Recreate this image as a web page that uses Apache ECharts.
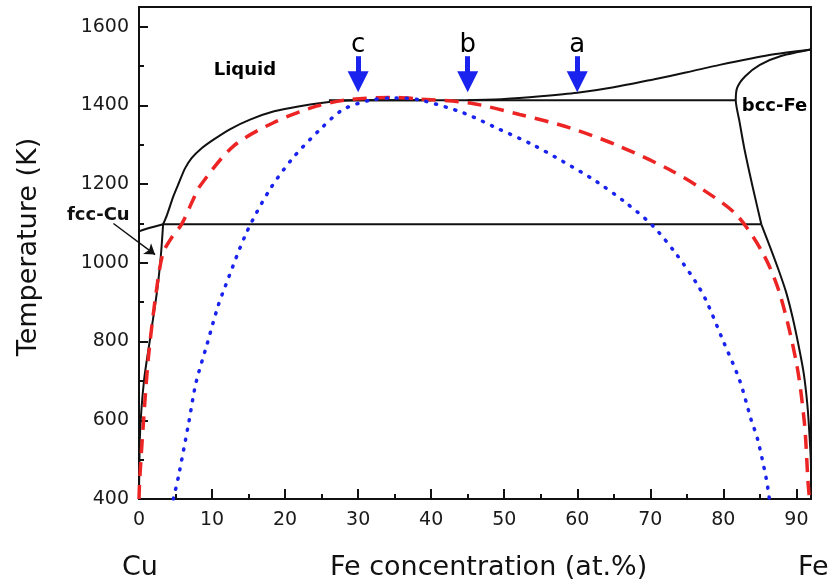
<!DOCTYPE html>
<html>
<head>
<meta charset="utf-8">
<script src="https://cdn.jsdelivr.net/npm/echarts@6/dist/echarts.min.js"></script>
<style>
  html, body { margin: 0; padding: 0; background: #fff; }
  #main { width: 837px; height: 588px; }
</style>
</head>
<body>
<div id="main"></div>
<script>
// phase boundaries, [Fe at.%, T (K)]
var liquidusLeft = [[3.3,1098],[3.8,1120],[4.7,1169],[5.5,1205],[6.3,1240],[7.2,1266],[8.5,1290],[10.2,1313],[12.5,1340],[15.2,1364],[18.5,1385],[22,1398],[26.6,1410],[31,1413],[40,1413]];
var solidusCu = [[0,1080],[1.5,1089],[3.3,1098]];
var solvusCu = [[3.3,1098],[3.0,1020],[2.5,932],[1.5,805],[0.7,703],[0.15,570],[0,400]];
var peritectic = [[3.3,1098],[85.2,1098]];
var monotectic = [[26,1413],[81.7,1413]];
var liquidusRight = [[45,1413],[50,1416],[55,1423],[60,1432],[65,1446],[70.4,1466],[75,1484],[79.5,1503],[86.3,1528],[92,1542]];
var solidusFe = [[92,1542],[88,1526],[85,1503],[83,1474],[81.9,1445],[81.7,1413],[82.2,1360],[82.9,1288],[84,1194],[85.2,1098]];
var solvusFe = [[85.2,1098],[86.4,1040],[87.6,980],[88.6,925],[89.5,860],[90.3,790],[91.0,720],[91.5,640],[91.8,560],[92,480],[92,400]];
var binodal = [[0,400],[0.1,450],[0.6,593],[1.3,762],[2.4,932],[3.3,1025],[4.5,1065],[5.8,1097],[7.4,1160],[8.3,1194],[12.9,1296],[18.4,1356],[24.3,1398],[28.9,1415],[35,1420],[38.4,1416],[45.3,1406],[52.1,1377],[59,1343],[65.8,1296],[72.6,1237],[77.2,1186],[81.8,1122],[85.4,1025],[87.7,923],[90,746],[91.1,593],[91.6,441],[91.8,400]];
var spinodal = [[4.7,400],[5.4,457],[6.8,593],[7.8,695],[9.3,792],[10.8,889],[11.8,940],[14.7,1076],[17.9,1186],[21.1,1267],[24.8,1339],[27.9,1389],[31.6,1413],[35,1419],[38.4,1414],[44.4,1381],[48.9,1343],[53.9,1300],[58,1258],[62.6,1207],[66.7,1152],[70.4,1093],[73.6,1021],[76.3,949],[77.7,902],[79.9,805],[82.2,703],[83.8,602],[84.7,551],[85.9,449],[86.3,400]];

var arrowNames = ['c', 'b', 'a'];
var arrowX = [30, 45, 60];
var arrowTop = 1525;
var arrowTip = 1460;
var labelT = 1553;
var fccArrow = [[-3.5, 1100], [2.2, 1021]];

var fontFam = 'DejaVu Sans, Verdana, sans-serif';

var chart = echarts.init(document.getElementById('main'));

function blackLine(name, data) {
    return {
        name: name,
        type: 'line',
        data: data,
        smooth: 0.25,
        symbol: 'none',
        lineStyle: { color: '#111', width: 2 },
        z: 3
    };
}

var arrowLines = [];
var arrowLabels = [];
for (var i = 0; i < arrowX.length; i++) {
    arrowLines.push([{ coord: [arrowX[i], arrowTop] }, { coord: [arrowX[i], arrowTip] }]);
    arrowLabels.push({ name: arrowNames[i], value: [arrowX[i], labelT] });
}

var option = {
    animation: false,
    grid: {
        left: 139, right: 26, top: 7, bottom: 89,
        show: true,
        borderColor: '#111',
        borderWidth: 2
    },
    xAxis: {
        type: 'value',
        min: 0, max: 92, interval: 10,
        axisLine: { show: true, lineStyle: { color: '#111', width: 2 } },
        axisTick: { show: true, inside: true, length: 10, lineStyle: { color: '#111', width: 2 } },
        minorTick: { show: true, splitNumber: 2, length: 5, lineStyle: { color: '#111', width: 2 } },
        axisLabel: {
            color: '#1a1a1a', fontSize: 19, fontFamily: fontFam, margin: 12, showMaxLabel: false,
            formatter: function (v) { return String(v); }
        },
        splitLine: { show: false }
    },
    yAxis: {
        type: 'value',
        min: 400, max: 1650, interval: 200,
        axisLine: { show: true, lineStyle: { color: '#111', width: 2 } },
        axisTick: { show: true, inside: true, length: 9, lineStyle: { color: '#111', width: 2 } },
        minorTick: { show: true, splitNumber: 2, length: 5, lineStyle: { color: '#111', width: 2 } },
        axisLabel: {
            color: '#1a1a1a', fontSize: 19, fontFamily: fontFam, margin: 10, showMaxLabel: false,
            formatter: function (v) { return String(v); }
        },
        splitLine: { show: false }
    },
    graphic: [
        { type: 'text', x: 29, y: 247, rotation: Math.PI / 2,
          style: { text: 'Temperature (K)', fontSize: 27, fontFamily: fontFam, fill: '#111', align: 'center', verticalAlign: 'middle' } },
        { type: 'text', x: 122, y: 568,
          style: { text: 'Cu', fontSize: 27, fontFamily: fontFam, fill: '#111', align: 'left', verticalAlign: 'middle' } },
        { type: 'text', x: 330, y: 568,
          style: { text: 'Fe concentration (at.%)', fontSize: 27, fontFamily: fontFam, fill: '#111', align: 'left', verticalAlign: 'middle' } },
        { type: 'text', x: 798, y: 568,
          style: { text: 'Fe', fontSize: 27, fontFamily: fontFam, fill: '#111', align: 'left', verticalAlign: 'middle' } },
        { type: 'text', x: 67, y: 215,
          style: { text: 'fcc-Cu', fontSize: 18, fontWeight: 'bold', fontFamily: fontFam, fill: '#111', align: 'left', verticalAlign: 'middle' } }
    ],
    series: [
        blackLine('liquidusLeft', liquidusLeft),
        blackLine('solidusCu', solidusCu),
        blackLine('solvusCu', solvusCu),
        blackLine('peritectic', peritectic),
        blackLine('monotectic', monotectic),
        blackLine('liquidusRight', liquidusRight),
        blackLine('solidusFe', solidusFe),
        blackLine('solvusFe', solvusFe),
        {
            name: 'binodal',
            type: 'line',
            data: binodal,
            smooth: 0.3,
            symbol: 'none',
            lineStyle: { color: '#ec2424', width: 3.5, type: [14, 9] },
            z: 4
        },
        {
            name: 'spinodal',
            type: 'line',
            data: spinodal,
            smooth: 0.3,
            symbol: 'none',
            lineStyle: { color: '#1a22ee', width: 3.5, type: [1, 9], cap: 'round' },
            z: 5
        },
        {
            name: 'arrows',
            type: 'scatter',
            data: arrowLabels,
            symbolSize: 0,
            clip: false,
            itemStyle: { opacity: 1 },
            label: {
                show: true,
                position: 'inside',
                formatter: '{b}',
                color: '#000',
                opacity: 1,
                fontSize: 26,
                fontFamily: fontFam
            },
            markLine: {
                silent: true,
                symbol: ['none', 'triangle'],
                symbolSize: 21,
                label: { show: false },
                lineStyle: { color: '#1a22ee', width: 5, type: 'solid' },
                data: arrowLines
            },
            z: 6
        },
        {
            name: 'notes',
            type: 'scatter',
            symbolSize: 0,
            clip: false,
            itemStyle: { opacity: 1 },
            data: [
                { name: 'Liquid', value: [14.5, 1490] },
                { name: 'bcc-Fe', value: [87, 1398] }
            ],
            label: {
                show: true,
                position: 'inside',
                formatter: '{b}',
                color: '#000',
                opacity: 1,
                fontSize: 18,
                fontWeight: 'bold',
                fontFamily: fontFam
            },
            z: 6
        },
        {
            name: 'fccArrow',
            type: 'lines',
            coordinateSystem: 'cartesian2d',
            clip: false,
            symbol: ['none', 'arrow'],
            symbolSize: 10,
            lineStyle: { color: '#111', width: 1.5, opacity: 1 },
            data: [{ coords: fccArrow }],
            z: 6
        }
    ]
};

chart.setOption(option);
</script>
</body>
</html>
